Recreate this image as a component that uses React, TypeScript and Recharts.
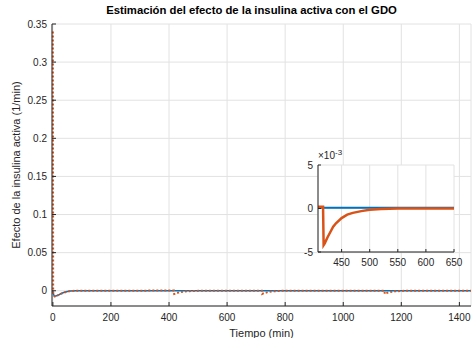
import React from 'react';
import { CartesianGrid, Line, LineChart, XAxis, YAxis } from 'recharts';

// tiempo (min) y efecto estimado (1/min)
const tiempos = [
  0, 1, 3, 6, 10, 15, 20, 27, 35, 45,
  60, 80, 150, 250, 350, 408, 417, 418, 420, 425,
  430, 435, 440, 450, 460, 470, 485, 500, 520, 550,
  600, 650, 700, 720, 721, 725, 730, 740, 755, 775,
  800, 900, 1000, 1100, 1142, 1143, 1147, 1152, 1162, 1177,
  1197, 1220, 1300, 1440,
];

const efectoReal = [
  0, -0.003, -0.0055, -0.0068, -0.007, -0.0063, -0.0053, -0.004, -0.0027, -0.0014,
  -0.0003, 0.0001, 0.0001, 0.0001, 0.0001, 0.0001, 0.0001, 0.0001, 0.0001, 0.0001,
  0.0001, 0.0001, 0.0001, 0.0001, 0.0001, 0.0001, 0.0001, 0.0001, 0.0001, 0.0001,
  0.0001, 0.0001, 0.0001, 0.0001, 0.0001, 0.0001, 0.0001, 0.0001, 0.0001, 0.0001,
  0.0001, 0.0001, 0.0001, 0.0001, 0.0001, 0.0001, 0.0001, 0.0001, 0.0001, 0.0001,
  0.0001, 0.0001, 0.0001, 0.0001,
];

const efectoGDO = [
  0.34, -0.002, -0.006, -0.0075, -0.0074, -0.0065, -0.0055, -0.0042, -0.0029, -0.0016,
  -0.0004, 0, 0.0001, 0.0001, 0.0002, 0.0002, 0.0002, -0.0042, -0.004, -0.0033,
  -0.0027, -0.0021, -0.0017, -0.0011, -0.0007, -0.0005, -0.0003, -0.00015, -0.00005, 0,
  0, 0, 0.0001, 0.0001, -0.0042, -0.0035, -0.0028, -0.0018, -0.0009, -0.0003,
  0, 0.0001, 0.0001, 0.0001, 0.0001, -0.0042, -0.0034, -0.0027, -0.0017, -0.0008,
  -0.0003, 0, 0.0001, 0.0001,
];

const xTicks = [0, 200, 400, 600, 800, 1000, 1200, 1400];
const yTicks = [0, 0.05, 0.1, 0.15, 0.2, 0.25, 0.3, 0.35];
const insetXTicks = [450, 500, 550, 600, 650];
const insetYTicks = [-0.005, 0, 0.005];

const data = tiempos.map((t, i) => ({ t, real: efectoReal[i], gdo: efectoGDO[i] }));

const FONT = '"Liberation Sans", Arial, Helvetica, sans-serif';
const AX = '#262626';
const GRID = '#e2e2e2';
const BLUE = '#0072BD';
const ORANGE = '#D95319';
const tickStyle = { fontSize: 10, fill: AX, fontFamily: FONT };

const App: React.FC = () => {
  return (
    <div style={{ position: 'absolute', left: 0, top: 0, width: 472, height: 338, fontFamily: FONT }}>
      <LineChart width={472} height={338} data={data} margin={{ top: 24, right: 1, left: 0, bottom: 0 }}>
        <CartesianGrid stroke={GRID} strokeWidth={1} />
        <XAxis
          dataKey="t"
          type="number"
          domain={[-3, 1440]}
          ticks={xTicks}
          height={32}
          stroke={AX}
          tickSize={-4}
          tickMargin={12}
          tick={tickStyle}
          interval={0}
        />
        <XAxis
          xAxisId="top"
          orientation="top"
          dataKey="t"
          type="number"
          domain={[-3, 1440]}
          ticks={xTicks}
          height={0}
          stroke={AX}
          tickSize={-4}
          tick={false}
        />
        <YAxis
          type="number"
          domain={[-0.02, 0.35]}
          ticks={yTicks}
          width={52}
          stroke={AX}
          tickSize={-4}
          tickMargin={9}
          tick={tickStyle}
          interval={0}
          tickFormatter={(v: number) => String(v)}
        />
        <YAxis
          yAxisId="right"
          orientation="right"
          type="number"
          domain={[-0.02, 0.35]}
          ticks={yTicks}
          width={0}
          stroke={AX}
          tickSize={-4}
          tick={false}
        />
        <Line type="linear" dataKey="real" stroke={BLUE} strokeWidth={1.5} dot={false} isAnimationActive={false} />
        <Line
          type="linear"
          dataKey="gdo"
          stroke={ORANGE}
          strokeWidth={2}
          strokeDasharray="2 2"
          dot={false}
          isAnimationActive={false}
        />
      </LineChart>

      <div
        style={{
          position: 'absolute', left: 0, width: 503, top: 4, textAlign: 'center',
          fontSize: 11.3, fontWeight: 'bold', color: '#000', whiteSpace: 'nowrap',
        }}
      >
        Estimación del efecto de la insulina activa con el GDO
      </div>
      <div
        style={{
          position: 'absolute', left: 52, width: 419, top: 327, textAlign: 'center',
          fontSize: 11, color: AX, whiteSpace: 'nowrap',
        }}
      >
        Tiempo (min)
      </div>
      <div
        style={{
          position: 'absolute', left: 16, top: 165, width: 0, height: 0, whiteSpace: 'nowrap',
        }}
      >
        <div
          style={{
            position: 'absolute', left: 0, top: 0, fontSize: 11, color: AX,
            transform: 'translate(-50%, -50%) rotate(-90deg)',
          }}
        >
          Efecto de la insulina activa (1/min)
        </div>
      </div>

      <div style={{ position: 'absolute', left: 290, top: 150 }}>
        <LineChart width={178} height={125} data={data} margin={{ top: 15, right: 14, left: 0, bottom: 0 }}>
          <CartesianGrid stroke={GRID} fill="#ffffff" fillOpacity={1} />
          <XAxis
            dataKey="t"
            type="number"
            domain={[408, 650]}
            allowDataOverflow
            ticks={insetXTicks}
            height={23}
            stroke={AX}
            tickSize={-3}
            tickMargin={10}
            tick={tickStyle}
            interval={0}
          />
          <XAxis
            xAxisId="top"
            orientation="top"
            dataKey="t"
            type="number"
            domain={[408, 650]}
            allowDataOverflow
            ticks={insetXTicks}
            height={0}
            stroke={AX}
            tickSize={-3}
            tick={false}
          />
          <YAxis
            type="number"
            domain={[-0.005, 0.005]}
            allowDataOverflow
            ticks={insetYTicks}
            width={28}
            stroke={AX}
            tickSize={-3}
            tickMargin={8}
            tick={tickStyle}
            interval={0}
            tickFormatter={(v: number) => String(Math.round(v * 1000))}
          />
          <YAxis
            yAxisId="right"
            orientation="right"
            type="number"
            domain={[-0.005, 0.005]}
            allowDataOverflow
            ticks={insetYTicks}
            width={0}
            stroke={AX}
            tickSize={-3}
            tick={false}
          />
          <Line type="linear" dataKey="real" stroke={BLUE} strokeWidth={2} dot={false} isAnimationActive={false} />
          <Line type="linear" dataKey="gdo" stroke={ORANGE} strokeWidth={2.5} dot={false} isAnimationActive={false} />
        </LineChart>
        <div style={{ position: 'absolute', left: 28, top: 0, fontSize: 10, color: AX, whiteSpace: 'nowrap' }}>
          ×10<sup style={{ fontSize: 8, verticalAlign: 'super', lineHeight: 0 }}>-3</sup>
        </div>
      </div>
    </div>
  );
};

export default App;
